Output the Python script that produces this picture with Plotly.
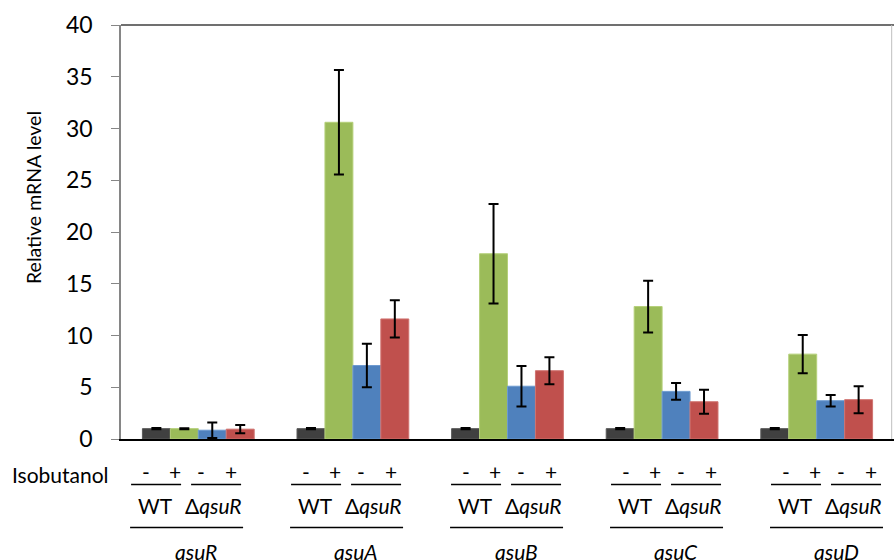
import plotly.graph_objects as go

genes = ["qsuR", "qsuA", "qsuB", "qsuC", "qsuD"]
series_names = ["WT -", "WT +", "ΔqsuR -", "ΔqsuR +"]
wt_minus = [1.0, 1.0, 1.0, 1.0, 1.0]
wt_plus = [1.0, 30.6, 17.9, 12.8, 8.2]
dq_minus = [0.85, 7.1, 5.1, 4.6, 3.7]
dq_plus = [0.95, 11.6, 6.6, 3.6, 3.8]
wt_minus_err = [0.06, 0.06, 0.06, 0.06, 0.06]
wt_plus_err = [0.05, 5.05, 4.8, 2.5, 1.85]
dq_minus_err = [0.75, 2.1, 1.95, 0.8, 0.55]
dq_plus_err = [0.4, 1.8, 1.3, 1.15, 1.3]
colors = ["#404040", "#9BBB59", "#4F81BD", "#C0504D"]
edge_colors = ["#5a5a5a", "#b5d07a", "#6d9ad0", "#d07370"]
y_ticks = [0, 5, 10, 15, 20, 25, 30, 35, 40]
treat_labels = ["-", "+", "-", "+"]
strain_labels = ["WT", "Δ<i>qsuR</i>"]
row_label = "Isobutanol"
y_title = "Relative mRNA level"

FONT = "Lato"
W, H = 895, 560
L, R, T, B = 121, 1, 25, 121
plot_w = W - L - R
plot_h = H - T - B

values = [wt_minus, wt_plus, dq_minus, dq_plus]
errs = [wt_minus_err, wt_plus_err, dq_minus_err, dq_plus_err]

fig = go.Figure()
for name, v, e, c, ec in zip(series_names, values, errs, colors, edge_colors):
    fig.add_trace(go.Bar(
        x=genes, y=v, name=name,
        marker=dict(color=c, line=dict(color=ec, width=1)),
        error_y=dict(type="data", array=e, visible=True, color="black",
                     thickness=2, width=5),
    ))

def py2paper(py):
    return (T + plot_h - py) / plot_h

px_per_unit = plot_w / len(genes)
LABEL_SIZE = 21

annotations = []
shapes = []
for i, g in enumerate(genes):
    center = i + (-0.079 + 0.0348 * i)
    for k, dx in enumerate([-40, -11, 15, 45]):
        annotations.append(dict(
            x=center + dx / px_per_unit, y=py2paper(472), xref="x", yref="paper",
            text=treat_labels[k], showarrow=False, xanchor="center", yanchor="middle",
            font=dict(family=FONT, size=LABEL_SIZE, color="black")))
    for sx in (-30, 30):
        shapes.append(dict(type="line", xref="x", yref="paper",
                           x0=center + (sx - 25) / px_per_unit, x1=center + (sx + 25) / px_per_unit,
                           y0=py2paper(484.5), y1=py2paper(484.5),
                           line=dict(color="black", width=1.5)))
    for k, dx in enumerate([-31, 27]):
        annotations.append(dict(
            x=center + dx / px_per_unit, y=py2paper(505.5), xref="x", yref="paper",
            text=strain_labels[k], showarrow=False, xanchor="center", yanchor="middle",
            font=dict(family=FONT, size=LABEL_SIZE, color="black")))
    shapes.append(dict(type="line", xref="x", yref="paper",
                       x0=center - 56 / px_per_unit, x1=center + 57 / px_per_unit,
                       y0=py2paper(527.5), y1=py2paper(527.5),
                       line=dict(color="black", width=1.5)))
    annotations.append(dict(
        x=center + 10 / px_per_unit, y=py2paper(551), xref="x", yref="paper",
        text="<i>" + g + "</i>", showarrow=False, xanchor="center", yanchor="middle",
        font=dict(family=FONT, size=LABEL_SIZE, color="black")))

annotations.append(dict(
    x=(111 - L) / plot_w, y=py2paper(474), xref="paper", yref="paper", text=row_label,
    showarrow=False, xanchor="right", yanchor="middle",
    font=dict(family=FONT, size=LABEL_SIZE, color="black")))

annotations.append(dict(
    x=(33 - L) / plot_w, y=py2paper(198), xref="paper", yref="paper", text=y_title,
    showarrow=False, textangle=-90, xanchor="center", yanchor="middle",
    font=dict(family=FONT, size=19.5, color="black")))

shapes.append(dict(type="line", xref="paper", yref="paper", x0=0, x1=1, y0=1, y1=1,
                   line=dict(color="#404040", width=1.5)))
shapes.append(dict(type="line", xref="paper", yref="paper", x0=0.997, x1=0.997, y0=0, y1=1,
                   line=dict(color="#bfbfbf", width=1)))

fig.update_layout(
    width=W, height=H,
    margin=dict(l=L, r=R, t=T, b=B),
    paper_bgcolor="white", plot_bgcolor="white",
    barmode="group", bargap=0.277, bargroupgap=0,
    showlegend=False,
    font=dict(family=FONT, color="black"),
    annotations=annotations, shapes=shapes,
    xaxis=dict(showticklabels=False, ticks="", showgrid=False, zeroline=False,
               showline=True, linecolor="black", linewidth=1.5,
               range=[-0.5, len(genes) - 0.5]),
    yaxis=dict(range=[0, 40], tickvals=y_ticks, ticks="outside", ticklen=8,
               tickcolor="#868686", tickwidth=1, showline=True, linecolor="#868686",
               linewidth=1.5, showgrid=False, zeroline=False,
               tickfont=dict(family=FONT, size=23, color="black"),
               ticklabelstandoff=14),
)

fig.write_html("out.html", config={"displayModeBar": False},
               post_script="document.body.style.margin='0';document.body.style.overflow='hidden';")
